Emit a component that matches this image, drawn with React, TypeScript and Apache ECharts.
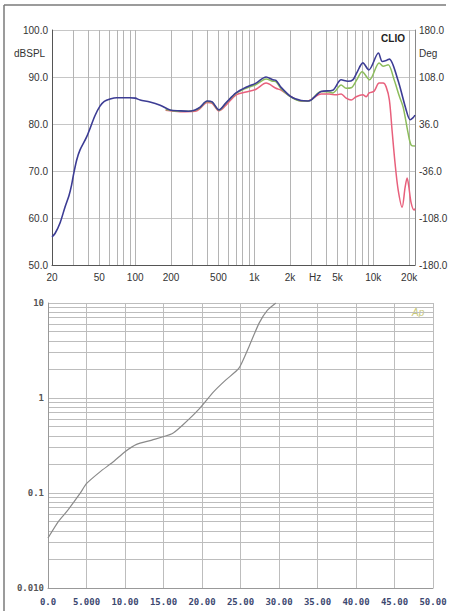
import React, { useEffect, useRef } from "react";
import * as echarts from "echarts";

// ---- Top chart: frequency response (CLIO) ----
const FREQ_GRID = [20, 30, 40, 50, 60, 70, 80, 90, 100, 200, 300, 400, 500, 600, 700, 800, 900, 1000, 2000, 3000, 4000, 5000, 6000, 7000, 8000, 9000, 10000, 20000];
const FREQ_LABEL_VALUES = [20, 50, 100, 200, 500, 1000, 2000, 3250, 5000, 10000, 20000];
const FREQ_LABEL_TEXTS = ["20", "50", "100", "200", "500", "1k", "2k", "Hz", "5k", "10k", "20k"];
const FREQ_MIN = 20;
const FREQ_MAX = 22400;

const BLUE_F = [20, 21.2, 23.4, 25.7, 27.8, 29.2, 30.2, 32.2, 34.4, 39, 46, 50.6, 55, 61.4, 70, 80, 90, 100, 110, 133, 162, 196, 238, 280, 318, 351, 402, 443, 506, 579, 703, 853, 1036, 1257, 1431, 1520, 1680, 2038, 2474, 2818, 3000, 3646, 4571, 5370, 6110, 6731, 7300, 8170, 9170, 11040, 11900, 13070, 13650, 16070, 18880, 20390, 21500, 22400];
const BLUE_DB = [56.0, 56.7, 59.0, 62.3, 64.8, 67.0, 69.0, 72.3, 74.5, 77.2, 81.8, 83.8, 84.8, 85.3, 85.6, 85.6, 85.6, 85.5, 85.1, 84.7, 84.0, 83.0, 82.8, 82.7, 83.0, 83.6, 84.9, 84.7, 83.0, 84.5, 86.6, 87.8, 88.7, 90.0, 89.4, 89.3, 87.8, 85.8, 85.0, 84.9, 85.1, 86.9, 87.2, 89.4, 89.1, 89.4, 91.0, 93.0, 91.5, 95.1, 93.3, 93.6, 93.8, 89.4, 83.0, 80.9, 81.3, 81.9];

const GREEN_F = [180, 238, 318, 351, 402, 443, 506, 579, 703, 853, 1036, 1257, 1431, 1520, 1680, 2038, 2474, 2818, 3000, 3646, 4255, 4571, 5370, 5913, 6516, 7300, 8050, 9300, 11190, 12100, 13330, 14960, 16500, 17810, 19620, 20790, 22400];
const GREEN_DB = [83.1, 82.7, 82.9, 83.5, 84.8, 84.6, 82.9, 84.4, 86.5, 87.6, 88.4, 89.6, 89.1, 89.0, 87.5, 85.7, 84.9, 84.9, 85.1, 86.9, 86.8, 86.6, 88.3, 87.6, 87.7, 89.5, 91.1, 89.4, 93.0, 92.3, 92.6, 89.4, 86.0, 83.6, 78.0, 75.5, 75.3];

const RED_F = [180, 238, 318, 351, 402, 443, 506, 579, 703, 853, 1036, 1257, 1520, 1680, 2038, 2474, 2818, 3000, 3646, 4255, 4875, 5370, 5913, 6516, 7179, 8170, 8710, 9230, 10160, 11190, 12100, 12820, 13650, 14390, 15250, 16170, 17460, 18500, 19240, 19800, 20790, 22030, 22400];
const RED_DB = [82.9, 82.6, 82.7, 83.3, 84.6, 84.4, 82.8, 84.0, 86.2, 86.8, 87.4, 88.7, 87.6, 87.2, 85.8, 84.9, 84.9, 85.2, 86.4, 86.4, 86.2, 86.4, 85.5, 85.1, 85.8, 86.2, 85.8, 86.6, 87.0, 88.7, 88.7, 87.9, 85.1, 78.5, 71.5, 66.0, 62.3, 66.5, 68.5, 67.0, 63.2, 61.7, 62.0];

// ---- Bottom chart: log-scale measurement ----
const LOW_X_LABELS = ["0.0", "5.000", "10.00", "15.00", "20.00", "25.00", "30.00", "35.00", "40.00", "45.00", "50.00"];
const LOW_Y_DECADES = [0.01, 0.1, 1, 10];
const LOW_Y_LABELS = ["0.010", "0.1", "1", "10"];
const LOW_Y_GRID = [0.01, 0.02, 0.03, 0.04, 0.05, 0.06, 0.07, 0.08, 0.09, 0.1, 0.2, 0.3, 0.4, 0.5, 0.6, 0.7, 0.8, 0.9, 1, 2, 3, 4, 5, 6, 7, 8, 9, 10];
const MEAS_X = [0, 1.34, 2.42, 4.16, 5.02, 6.75, 8.48, 10.0, 11.5, 13.5, 16.1, 17.5, 19.7, 21.5, 23.1, 24.8, 26.1, 27.4, 28.5, 29.6];
const MEAS_Y = [0.0336, 0.05, 0.0635, 0.099, 0.126, 0.167, 0.213, 0.272, 0.325, 0.36, 0.42, 0.52, 0.778, 1.16, 1.55, 2.06, 3.47, 6.1, 8.4, 10];

const lg = (v: number) => Math.log10(v);
const nearestLabel = (v: number, vals: number[], texts: string[]) => {
  for (let i = 0; i < vals.length; i++) {
    if (Math.abs(lg(vals[i]) - v) < 1e-6) return texts[i];
  }
  return "";
};

export default function App() {
  const ref = useRef<HTMLDivElement>(null);
  useEffect(() => {
    if (!ref.current) return;
    const chart = echarts.init(ref.current, null, { renderer: "svg" });
    const sans = "Liberation Sans";
    const mono = "DejaVu Sans Mono";
    const option: any = {
      animation: false,
      backgroundColor: "#ffffff",
      textStyle: { fontFamily: sans },
      grid: [
        { left: 52, top: 30, width: 363, height: 235 },
        { left: 48, top: 303, width: 385, height: 285 },
      ],
      xAxis: [
        {
          gridIndex: 0,
          type: "value",
          min: lg(FREQ_MIN),
          max: lg(FREQ_MAX),
          axisLine: { show: true, onZero: false, lineStyle: { color: "#555", width: 1 } },
          axisTick: { show: false, customValues: FREQ_GRID.map(lg) },
          splitLine: { show: true, lineStyle: { color: "#b4b4b4", width: 1 } },
          axisLabel: {
            customValues: FREQ_LABEL_VALUES.map(lg),
            formatter: (v: number) => nearestLabel(v, FREQ_LABEL_VALUES, FREQ_LABEL_TEXTS),
            margin: 7,
            fontSize: 10,
            color: "#333",
            fontFamily: sans,
          },
        },
        {
          gridIndex: 1,
          type: "value",
          min: 0,
          max: 50,
          interval: 5,
          axisLine: { show: true, onZero: false, lineStyle: { color: "#999" } },
          axisTick: { show: false },
          splitLine: { show: true, lineStyle: { color: "#bdbdbd" } },
          axisLabel: {
            formatter: (v: number) => LOW_X_LABELS[Math.round(v / 5)],
            margin: 9,
            fontSize: 9,
            fontWeight: "bold",
            fontFamily: mono,
            color: "#3c4870",
          },
        },
      ],
      yAxis: [
        {
          gridIndex: 0,
          type: "value",
          min: 50,
          max: 100,
          interval: 10,
          axisLine: { show: true, onZero: false, lineStyle: { color: "#555" } },
          axisTick: { show: false },
          splitLine: { show: true, lineStyle: { color: "#c6c6c6" } },
          axisLabel: { formatter: (v: number) => v.toFixed(1), margin: 4, fontSize: 10, color: "#333", fontFamily: sans },
        },
        {
          gridIndex: 0,
          type: "value",
          position: "right",
          min: -180,
          max: 180,
          interval: 72,
          axisLine: { show: true, onZero: false, lineStyle: { color: "#888" } },
          axisTick: { show: false },
          splitLine: { show: false },
          axisLabel: { formatter: (v: number) => v.toFixed(1), margin: 4, fontSize: 10, color: "#333", fontFamily: sans },
        },
        {
          gridIndex: 1,
          type: "value",
          min: -2,
          max: 1,
          axisLine: { show: true, onZero: false, lineStyle: { color: "#999" } },
          axisTick: { show: false, customValues: LOW_Y_GRID.map(lg) },
          splitLine: { show: true, lineStyle: { color: "#bdbdbd" } },
          axisLabel: {
            customValues: LOW_Y_DECADES.map(lg),
            formatter: (v: number) => nearestLabel(v, LOW_Y_DECADES, LOW_Y_LABELS),
            margin: 4,
            fontSize: 9,
            fontWeight: "bold",
            fontFamily: mono,
            color: (v: number) => (Math.abs(v + 2) < 1e-6 ? "#8a3a4c" : "#555"),
          },
        },
      ],
      series: [
        {
          type: "line",
          xAxisIndex: 0,
          yAxisIndex: 0,
          data: RED_F.map((f, i) => [lg(f), RED_DB[i]]),
          symbol: "none",
          smooth: 0.3,
          lineStyle: { color: "#e8607c", width: 1.5 },
          z: 3,
        },
        {
          type: "line",
          xAxisIndex: 0,
          yAxisIndex: 0,
          data: GREEN_F.map((f, i) => [lg(f), GREEN_DB[i]]),
          symbol: "none",
          smooth: 0.3,
          lineStyle: { color: "#8cbc5c", width: 1.5 },
          z: 4,
        },
        {
          type: "line",
          xAxisIndex: 0,
          yAxisIndex: 0,
          data: BLUE_F.map((f, i) => [lg(f), BLUE_DB[i]]),
          symbol: "none",
          smooth: 0.3,
          lineStyle: { color: "#3c3c94", width: 1.6 },
          z: 5,
        },
        {
          type: "line",
          xAxisIndex: 1,
          yAxisIndex: 2,
          data: MEAS_X.map((x, i) => [x, lg(MEAS_Y[i])]),
          symbol: "none",
          smooth: 0.2,
          lineStyle: { color: "#8a8a8a", width: 1.2 },
          z: 3,
        },
      ],
      graphic: [
        { type: "line", shape: { x1: 4, y1: 5, x2: 446, y2: 5 }, style: { stroke: "#7a7a7a", lineWidth: 1.5 } },
        { type: "line", shape: { x1: 4, y1: 5, x2: 4, y2: 611 }, style: { stroke: "#7a7a7a", lineWidth: 1.5 } },
        { type: "text", x: 14, y: 48, style: { text: "dBSPL", fontSize: 10, fill: "#333", fontFamily: sans } },
        { type: "text", x: 419, y: 48, style: { text: "Deg", fontSize: 10, fill: "#333", fontFamily: sans } },
        { type: "text", x: 393, y: 33, style: { text: "CLIO", fontSize: 10, fontWeight: "bold", fill: "#222", fontFamily: sans, textAlign: "center" } },
        { type: "text", x: 412, y: 307, style: { text: "Ap", fontSize: 10, fontStyle: "italic", fill: "#c9c97a", fontFamily: sans } },
      ],
    };
    chart.setOption(option);
    return () => chart.dispose();
  }, []);
  return <div ref={ref} style={{ position: "absolute", left: 0, top: 0, width: 452, height: 611 }} />;
}
